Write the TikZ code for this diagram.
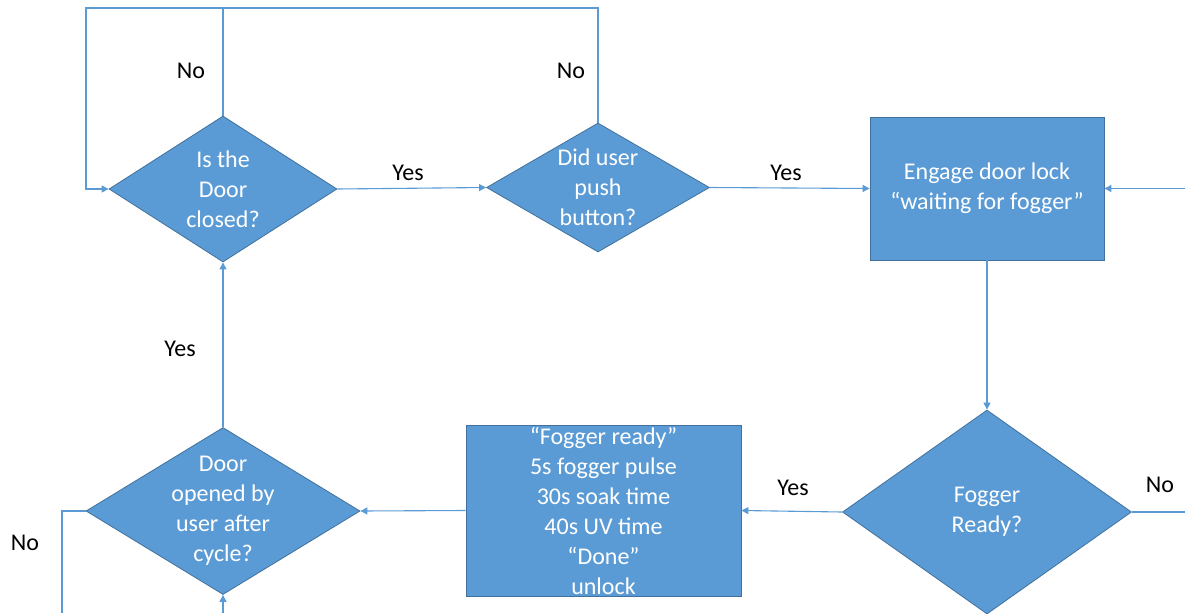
\documentclass[tikz,border=0pt]{standalone}
\usepackage{fontspec}
\setmainfont{Carlito}
\usetikzlibrary{shapes.geometric,arrows.meta}

\definecolor{officeblue}{HTML}{5B9BD5}
\definecolor{officeedge}{HTML}{41719C}

\tikzset{%
  decision/.style={
    diamond, draw=officeedge, fill=officeblue, line width=0.8pt, inner sep=0pt
  },
  process/.style={
    rectangle, draw=officeedge, fill=officeblue, line width=0.8pt,
    text=white, align=center, inner sep=0pt
  },
  inside/.style={
    text=white, align=center, inner sep=0pt
  },
  answer/.style={
    text=black, inner sep=0pt
  },
  flow/.style={
    draw=officeblue, line width=1.1pt
  },
}

\begin{document}
\begin{tikzpicture}[x=1pt, y=-1pt, >={Triangle[width=7pt,length=7pt]},
  font=\fontsize{24}{30}\selectfont]
  \useasboundingbox (0,0) rectangle (1185,613);

  % draw decisions
  \node [decision, minimum width=228, minimum height=146,
    label={[inside]center:Is the\\Door\\closed?}] (closed) at (223,189) {};
  \node [decision, minimum width=223, minimum height=129,
    label={[inside]center:Did user\\push\\button?}] (push) at (598,187.5) {};
  \node [decision, minimum width=289, minimum height=204,
    label={[inside]center:Fogger\\Ready?}] (ready) at (987,512) {};
  \node [decision, minimum width=274, minimum height=167,
    label={[inside]center:Door\\opened by\\user after\\cycle?}] (opened) at (223,511) {};

  % draw process boxes
  \node [process, minimum width=234, minimum height=143] (lock) at (987,188.5)
    {Engage door lock\\``waiting for fogger''};
  \node [process, minimum width=275, minimum height=171] (cycle) at (603.5,510.5)
    {``Fogger ready''\\5s fogger pulse\\30s soak time\\40s UV time\\``Done''\\unlock};

  % free ends of the connectors
  \coordinate (topL) at (86,8);
  \coordinate (inR) at (1185,188.5);
  \coordinate (outR) at (1185,512);
  \coordinate (outL) at (62,613);
  \coordinate (inB) at (223,613);

  % draw connectors
  \draw [flow, ->] (closed.north) -- (closed.north |- topL) -- (topL) |- (closed.west);
  \draw [flow] (push.north) -- (push.north |- topL) -- (closed.north |- topL);
  \draw [flow, ->] (closed.east) -- (push.west);
  \draw [flow, ->] (push.east) -- (lock.west);
  \draw [flow, ->] (inR) -- (lock.east);
  \draw [flow, ->] (lock.south) -- (ready.north);
  \draw [flow] (ready.east) -- (outR);
  \draw [flow, ->] (ready.west) -- (cycle.east);
  \draw [flow, ->] (cycle.west) -- (opened.east);
  \draw [flow, ->] (opened.north) -- (closed.south);
  \draw [flow] (opened.west) -| (outL);
  \draw [flow, ->] (inB) -- (opened.south);

  % answers
  \node [answer] (no1) at (191,71) {No};
  \node [answer] (no2) at (571,71) {No};
  \node [answer] (yes1) at (408,173) {Yes};
  \node [answer] (yes2) at (786,173) {Yes};
  \node [answer] (yes3) at (180,349) {Yes};
  \node [answer] (yes4) at (793,488) {Yes};
  \node [answer] (no3) at (1160,485) {No};
  \node [answer] (no4) at (25,543) {No};

\end{tikzpicture}
\end{document}
